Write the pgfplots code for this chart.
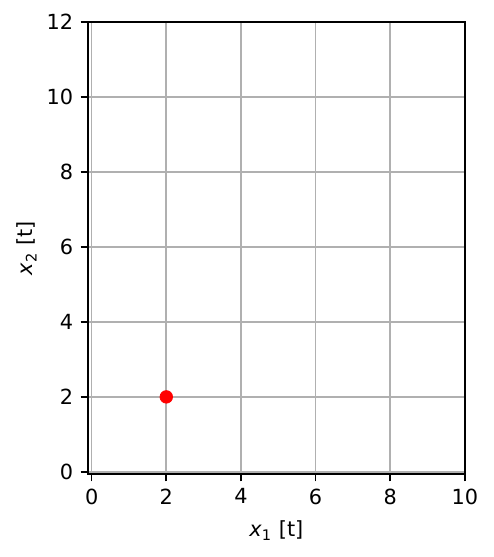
\documentclass[border=0pt]{standalone}
\usepackage{fontspec}
\setmainfont{DejaVu Sans}
\usepackage{pgfplots}
\pgfplotsset{compat=1.18}
\begin{document}
\begin{tikzpicture}
\begin{axis}[
  scale only axis,
  width=181pt, height=217pt,
  xmin=-0.1, xmax=10, ymin=-0.06, ymax=12,
  xtick={0,2,4,6,8,10}, ytick={0,2,4,6,8,10,12},
  tick align=outside, xtick pos=bottom, ytick pos=left,
  major tick length=3.5pt,
  every tick/.style={black, line width=0.8pt},
  axis line style={black, line width=0.8pt},
  grid=major,
  major grid style={color=black!31, line width=0.8pt},
  tick label style={font=\fontsize{10}{12}\selectfont},
  label style={font=\fontsize{10}{12}\selectfont},
  /pgf/number format/assume math mode=true,
  xlabel={\textit{x}\textsubscript{1} [t]},
  ylabel={\textit{x}\textsubscript{2} [t]},
  xlabel style={yshift=-1pt},
  ylabel style={yshift=-2pt},
]
\addplot[only marks, mark=*, mark size=3pt, color=red, mark options={fill=red, draw=red}] coordinates {(2,2)};
\end{axis}
\path[use as bounding box] ([xshift=-42.2pt,yshift=-39.8pt]current axis.south west) rectangle ([xshift=13.9pt,yshift=10.6pt]current axis.north east);
\end{tikzpicture}
\end{document}
